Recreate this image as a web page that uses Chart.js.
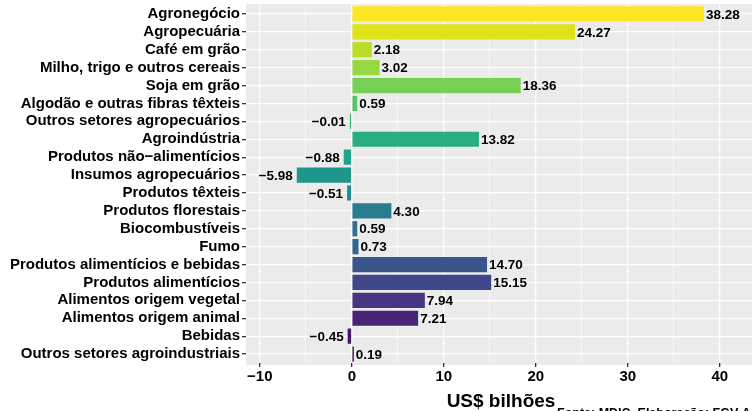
<!DOCTYPE html>
<html>
<head>
<meta charset="utf-8">
<script src="https://cdn.jsdelivr.net/npm/chart.js@4.4.1/dist/chart.umd.min.js"></script>
<style>
  html, body { margin: 0; padding: 0; background: #fff; }
  #mycanvas { display: block; }
</style>
</head>
<body>
<canvas id="mycanvas" width="752" height="411"></canvas>
<script>
var categorias = [
	"Agronegócio", "Agropecuária", "Café em grão", "Milho, trigo e outros cereais",
	"Soja em grão", "Algodão e outras fibras têxteis", "Outros setores agropecuários",
	"Agroindústria", "Produtos não\u2212alimentícios", "Insumos agropecuários",
	"Produtos têxteis", "Produtos florestais", "Biocombustíveis", "Fumo",
	"Produtos alimentícios e bebidas", "Produtos alimentícios", "Alimentos origem vegetal",
	"Alimentos origem animal", "Bebidas", "Outros setores agroindustriais"
];
var valores = [38.28, 24.27, 2.18, 3.02, 18.36, 0.59, -0.01, 13.82, -0.88, -5.98,
	-0.51, 4.30, 0.59, 0.73, 14.70, 15.15, 7.94, 7.21, -0.45, 0.19];
var cores = ["#FDE725", "#DDE318", "#BADE28", "#95D840", "#75D054", "#56C667", "#3CBC75",
	"#29AF7F", "#20A386", "#1F968B", "#238A8D", "#287D8E", "#2D718E", "#32648E",
	"#39558C", "#3F4788", "#453781", "#482677", "#481568", "#440154"];
var xTicks = [-10, -5, 0, 5, 10, 15, 20, 25, 30, 35, 40];
var tituloX = "US$ bilhões";
var fonte = "Fonte: MDIC. Elaboração: FGV Agro";

var FAMILIA = "'Liberation Sans', Arial, sans-serif";

function fmt(v, dec) {
	var s = Math.abs(v).toFixed(dec);
	return v < 0 ? "\u2212" + s : s;
}

// fundo cinza do painel (estilo ggplot)
var fundoPainel = {
	id: "fundoPainel",
	beforeDraw: function(chart) {
		var a = chart.chartArea, ctx = chart.ctx;
		ctx.save();
		ctx.fillStyle = "#EBEBEB";
		ctx.fillRect(a.left, a.top - 1, a.right - a.left, a.bottom - a.top + 3);
		ctx.restore();
	}
};

// rótulos das barras, título do eixo e fonte
var rotulos = {
	id: "rotulos",
	afterDraw: function(chart) {
		var ctx = chart.ctx;
		var meta = chart.getDatasetMeta(0);
		ctx.save();
		ctx.font = "bold 13.5px " + FAMILIA;
		ctx.fillStyle = "#000";
		ctx.textBaseline = "middle";
		meta.data.forEach(function(bar, i) {
			var v = valores[i];
			if (v < 0) {
				ctx.textAlign = "right";
				ctx.fillText(fmt(v, 2), Math.min(bar.x, bar.base) - 4, bar.y + 1);
			} else {
				ctx.textAlign = "left";
				ctx.fillText(fmt(v, 2), bar.x + 2, bar.y + 1);
			}
		});
		var a = chart.chartArea;
		ctx.textBaseline = "alphabetic";
		ctx.textAlign = "center";
		ctx.font = "bold 19px " + FAMILIA;
		ctx.fillText(tituloX, (a.left + a.right) / 2 + 2, 407);
		ctx.textAlign = "left";
		ctx.font = "bold 12.5px " + FAMILIA;
		ctx.fillText(fonte, 557, 417);
		ctx.restore();
	}
};

var ctx = document.getElementById("mycanvas").getContext("2d");

var grafico = new Chart(ctx, {
	type: "bar",
	data: {
		labels: categorias,
		datasets: [{
			data: valores,
			backgroundColor: cores,
			borderWidth: 0,
			barPercentage: 0.85,
			categoryPercentage: 1.0,
			minBarLength: 2
		}]
	},
	options: {
		indexAxis: "y",
		responsive: false,
		animation: false,
		devicePixelRatio: 1,
		layout: { padding: { top: 5, right: 0, left: 0, bottom: 0 } },
		plugins: {
			legend: { display: false },
			tooltip: { enabled: false }
		},
		scales: {
			x: {
				type: "linear",
				min: -11.5,
				max: 43.5,
				afterBuildTicks: function(scale) {
					scale.ticks = xTicks.map(function(v) { return { value: v }; });
				},
				afterFit: function(scale) { scale.height = 48; },
				border: { display: false },
				grid: {
					color: "#FFFFFF",
					lineWidth: function(c) { return (c.tick && c.tick.value % 10 === 0) ? 1.3 : 0.6; },
					tickLength: 4,
					tickColor: function(c) { return (c.tick && c.tick.value % 10 === 0) ? "#333333" : "rgba(0,0,0,0)"; },
					drawOnChartArea: true
				},
				ticks: {
					autoSkip: false,
					maxRotation: 0,
					padding: 1,
					color: "#000",
					font: { family: FAMILIA, size: 15, weight: "bold" },
					callback: function(v) { return v % 10 === 0 ? fmt(v, 0) : ""; }
				}
			},
			y: {
				afterFit: function(scale) {
					scale.width = 246;
					scale.paddingTop = 0;
					scale.paddingBottom = 0;
				},
				border: { display: false },
				grid: {
					offset: false,
					color: "#FFFFFF",
					lineWidth: 1.3,
					tickLength: 4,
					tickColor: "#333333"
				},
				ticks: {
					autoSkip: false,
					padding: 2,
					color: "#000",
					font: { family: FAMILIA, size: 15, weight: "bold" }
				}
			}
		}
	},
	plugins: [fundoPainel, rotulos]
});
</script>
</body>
</html>
